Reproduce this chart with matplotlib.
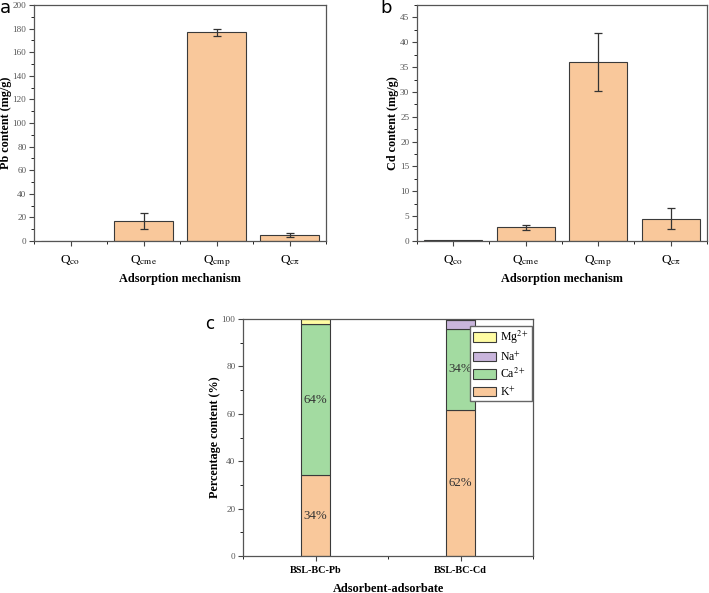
import matplotlib
matplotlib.use('Agg')
import matplotlib.pyplot as plt
from matplotlib.ticker import MultipleLocator
import numpy as np

plt.rcParams['font.family'] = 'Liberation Serif'
plt.rcParams['mathtext.fontset'] = 'stix'

# panel a / b data
mechanisms = ['Q$_{\\mathrm{co}}$', 'Q$_{\\mathrm{cme}}$', 'Q$_{\\mathrm{cmp}}$', 'Q$_{\\mathrm{c\\pi}}$']
pb_values = [0.4, 16.8, 177.0, 5.2]
pb_errors = [0.0, 6.5, 3.0, 1.5]
cd_values = [0.2, 2.8, 36.0, 4.5]
cd_errors = [0.0, 0.5, 5.9, 2.1]

# panel c data
samples = ['BSL-BC-Pb', 'BSL-BC-Cd']
ions = ['K$^{+}$', 'Ca$^{2+}$', 'Na$^{+}$', 'Mg$^{2+}$']
ion_pct = {
    'K': [34.0, 61.8],
    'Ca': [64.0, 34.0],
    'Na': [0.0, 3.6],
    'Mg': [2.0, 0.6],
}
pct_labels = {'K': ['34%', '62%'], 'Ca': ['64%', '34%']}

orange = '#F9C89B'
colors = {'K': orange, 'Ca': '#A3DBA1', 'Na': '#C9B5DC', 'Mg': '#FFFCA3'}
edge = '#3a3a3a'

fig = plt.figure(figsize=(7.09, 5.93), dpi=100)
ax_a = fig.add_axes([0.048, 0.5936, 0.412, 0.398])
ax_b = fig.add_axes([0.588, 0.5936, 0.409, 0.398])
ax_c = fig.add_axes([0.343, 0.0624, 0.409, 0.3996])


def style_axes(ax):
    ax.tick_params(axis='y', labelsize=6.6, colors='#444444', labelcolor='#555555', pad=2)
    ax.tick_params(axis='x', colors='#444444', labelcolor='black')
    ax.tick_params(which='major', length=3.5, width=0.8)
    ax.tick_params(which='minor', length=2, width=0.6)
    for s in ax.spines.values():
        s.set_color('#555555')
        s.set_linewidth(0.9)


def bar_panel(ax, vals, errs, ylabel, ymax, major, minor, ylab_x):
    x = np.arange(len(vals))
    ax.bar(x, vals, width=0.8, color=orange, edgecolor=edge, linewidth=0.8)
    ax.errorbar(x[1:], vals[1:], yerr=errs[1:], fmt='none', ecolor='#333333',
                elinewidth=0.9, capsize=3, capthick=0.9)
    ax.set_xlim(-0.5, 3.5)
    ax.set_ylim(0, ymax)
    ax.set_xticks(x)
    ax.set_xticklabels(mechanisms, fontsize=9.5)
    ax.xaxis.set_minor_locator(MultipleLocator(0.5))
    ax.yaxis.set_major_locator(MultipleLocator(major))
    ax.yaxis.set_minor_locator(MultipleLocator(minor))
    style_axes(ax)
    ax.tick_params(axis='x', pad=5)
    ax.set_ylabel(ylabel, fontsize=8.7, fontweight='bold')
    ax.yaxis.set_label_coords(ylab_x, 0.5)
    ax.set_xlabel('Adsorption mechanism', fontsize=8.8, fontweight='bold')
    ax.xaxis.set_label_coords(0.5, -0.135)


bar_panel(ax_a, pb_values, pb_errors, 'Pb content (mg/g)', 200, 20, 10, -0.077)
bar_panel(ax_b, cd_values, cd_errors, 'Cd content (mg/g)', 47.5, 5, 2.5, -0.06)

# panel c: stacked bars
xc = np.arange(len(samples))
bottom = np.zeros(len(samples))
handles = {}
for key, lab in zip(['K', 'Ca', 'Na', 'Mg'], ions):
    vals = np.array(ion_pct[key])
    handles[key] = ax_c.bar(xc, vals, width=0.2, bottom=bottom, color=colors[key],
                            edgecolor=edge, linewidth=0.8, label=lab)
    if key in pct_labels:
        for xi, b, v, t in zip(xc, bottom, vals, pct_labels[key]):
            ax_c.text(xi, b + v / 2, t, ha='center', va='center', fontsize=9.3,
                      color='#333333')
    bottom = bottom + vals

ax_c.set_xlim(-0.5, 1.5)
ax_c.set_ylim(0, 100)
ax_c.set_xticks(xc)
ax_c.set_xticklabels(samples, fontsize=7.3, fontweight='bold')
ax_c.xaxis.set_minor_locator(MultipleLocator(0.5))
ax_c.yaxis.set_major_locator(MultipleLocator(20))
ax_c.yaxis.set_minor_locator(MultipleLocator(10))
style_axes(ax_c)
ax_c.set_ylabel('Percentage content (%)', fontsize=8.7, fontweight='bold')
ax_c.yaxis.set_label_coords(-0.076, 0.5)
ax_c.set_xlabel('Adsorbent-adsorbate', fontsize=8.8, fontweight='bold')
ax_c.xaxis.set_label_coords(0.5, -0.112)

leg_order = ['Mg', 'Na', 'Ca', 'K']
ax_c.legend([handles[k] for k in leg_order],
            [ions[['K', 'Ca', 'Na', 'Mg'].index(k)] for k in leg_order],
            loc='upper right', bbox_to_anchor=(0.995, 0.97), fontsize=8.5,
            frameon=True, fancybox=False, edgecolor='#666666', framealpha=1,
            handlelength=2.0, handleheight=0.9, handletextpad=0.3,
            borderpad=0.25, labelspacing=0.3, borderaxespad=0)

# panel letters
fig.text(0.0, 0.978, 'a', fontsize=13, family='DejaVu Sans')
fig.text(0.537, 0.978, 'b', fontsize=13, family='DejaVu Sans')
fig.text(0.289, 0.445, 'c', fontsize=12, family='DejaVu Sans')

fig.savefig('out.png', dpi=100)
